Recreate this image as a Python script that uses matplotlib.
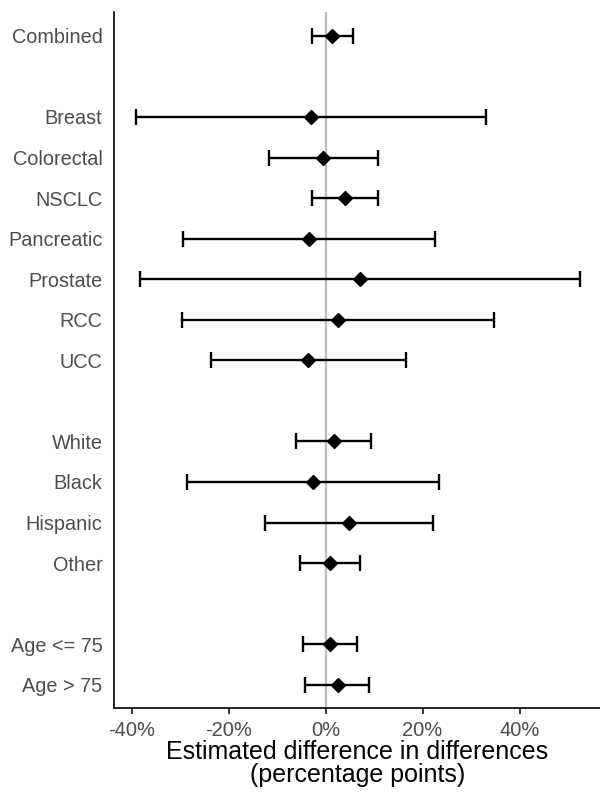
import matplotlib
matplotlib.use("Agg")
import matplotlib.pyplot as plt
import numpy as np

plt.rcParams['font.family'] = ['Liberation Sans', 'DejaVu Sans']

# row labels, None marks a blank gap row
labels = ["Combined", None,
          "Breast", "Colorectal", "NSCLC", "Pancreatic", "Prostate", "RCC", "UCC", None,
          "White", "Black", "Hispanic", "Other", None,
          "Age <= 75", "Age > 75"]

# estimates and 95% CI bounds in percentage points (blank rows omitted)
estimate = [1.4, -3.0, -0.5, 4.0, -3.4, 7.1, 2.6, -3.6, 1.8, -2.7, 4.9, 0.9, 1.0, 2.5]
lower = [-2.8, -39.2, -11.7, -2.8, -29.5, -38.3, -29.7, -23.7, -6.1, -28.7, -12.5, -5.2, -4.6, -4.3]
upper = [5.6, 33.0, 10.8, 10.7, 22.6, 52.5, 34.8, 16.5, 9.3, 23.4, 22.2, 7.1, 6.4, 9.0]

ypos = [i for i, lab in enumerate(labels) if lab is not None]
names = [lab for lab in labels if lab is not None]

est = np.array(estimate)
err = np.vstack([est - np.array(lower), np.array(upper) - est])

fig = plt.figure(figsize=(6, 7.94), dpi=100)
ax = fig.add_axes([0.1905, 0.108, 0.8095, 0.877])

ax.axvline(0, color="#bdbdbd", lw=1.6, zorder=1)
ax.errorbar(est, ypos, xerr=err, fmt="D", color="black", ms=7.5,
            ecolor="black", elinewidth=1.7, capsize=5.5, capthick=1.7, zorder=3)

ax.set_ylim(len(labels) - 1 + 0.58, -0.59)
ax.set_xlim(-43.6, 56.6)
ax.set_yticks(ypos)
ax.set_yticklabels(names)
ax.set_xticks([-40, -20, 0, 20, 40])
ax.set_xticklabels(["-40%", "-20%", "0%", "20%", "40%"])

ax.tick_params(axis="y", length=0, pad=8.5, labelsize=14.3, labelcolor="#4d4d4d")
ax.tick_params(axis="x", length=4, width=1.1, pad=5, labelsize=14.5, labelcolor="#4d4d4d")

for side in ["top", "right"]:
    ax.spines[side].set_visible(False)
for side in ["left", "bottom"]:
    ax.spines[side].set_linewidth(1.2)

ax.set_xlabel("Estimated difference in differences\n(percentage points)",
              fontsize=18, color="black", labelpad=0, linespacing=0.98)

fig.savefig("out.png", dpi=100)
